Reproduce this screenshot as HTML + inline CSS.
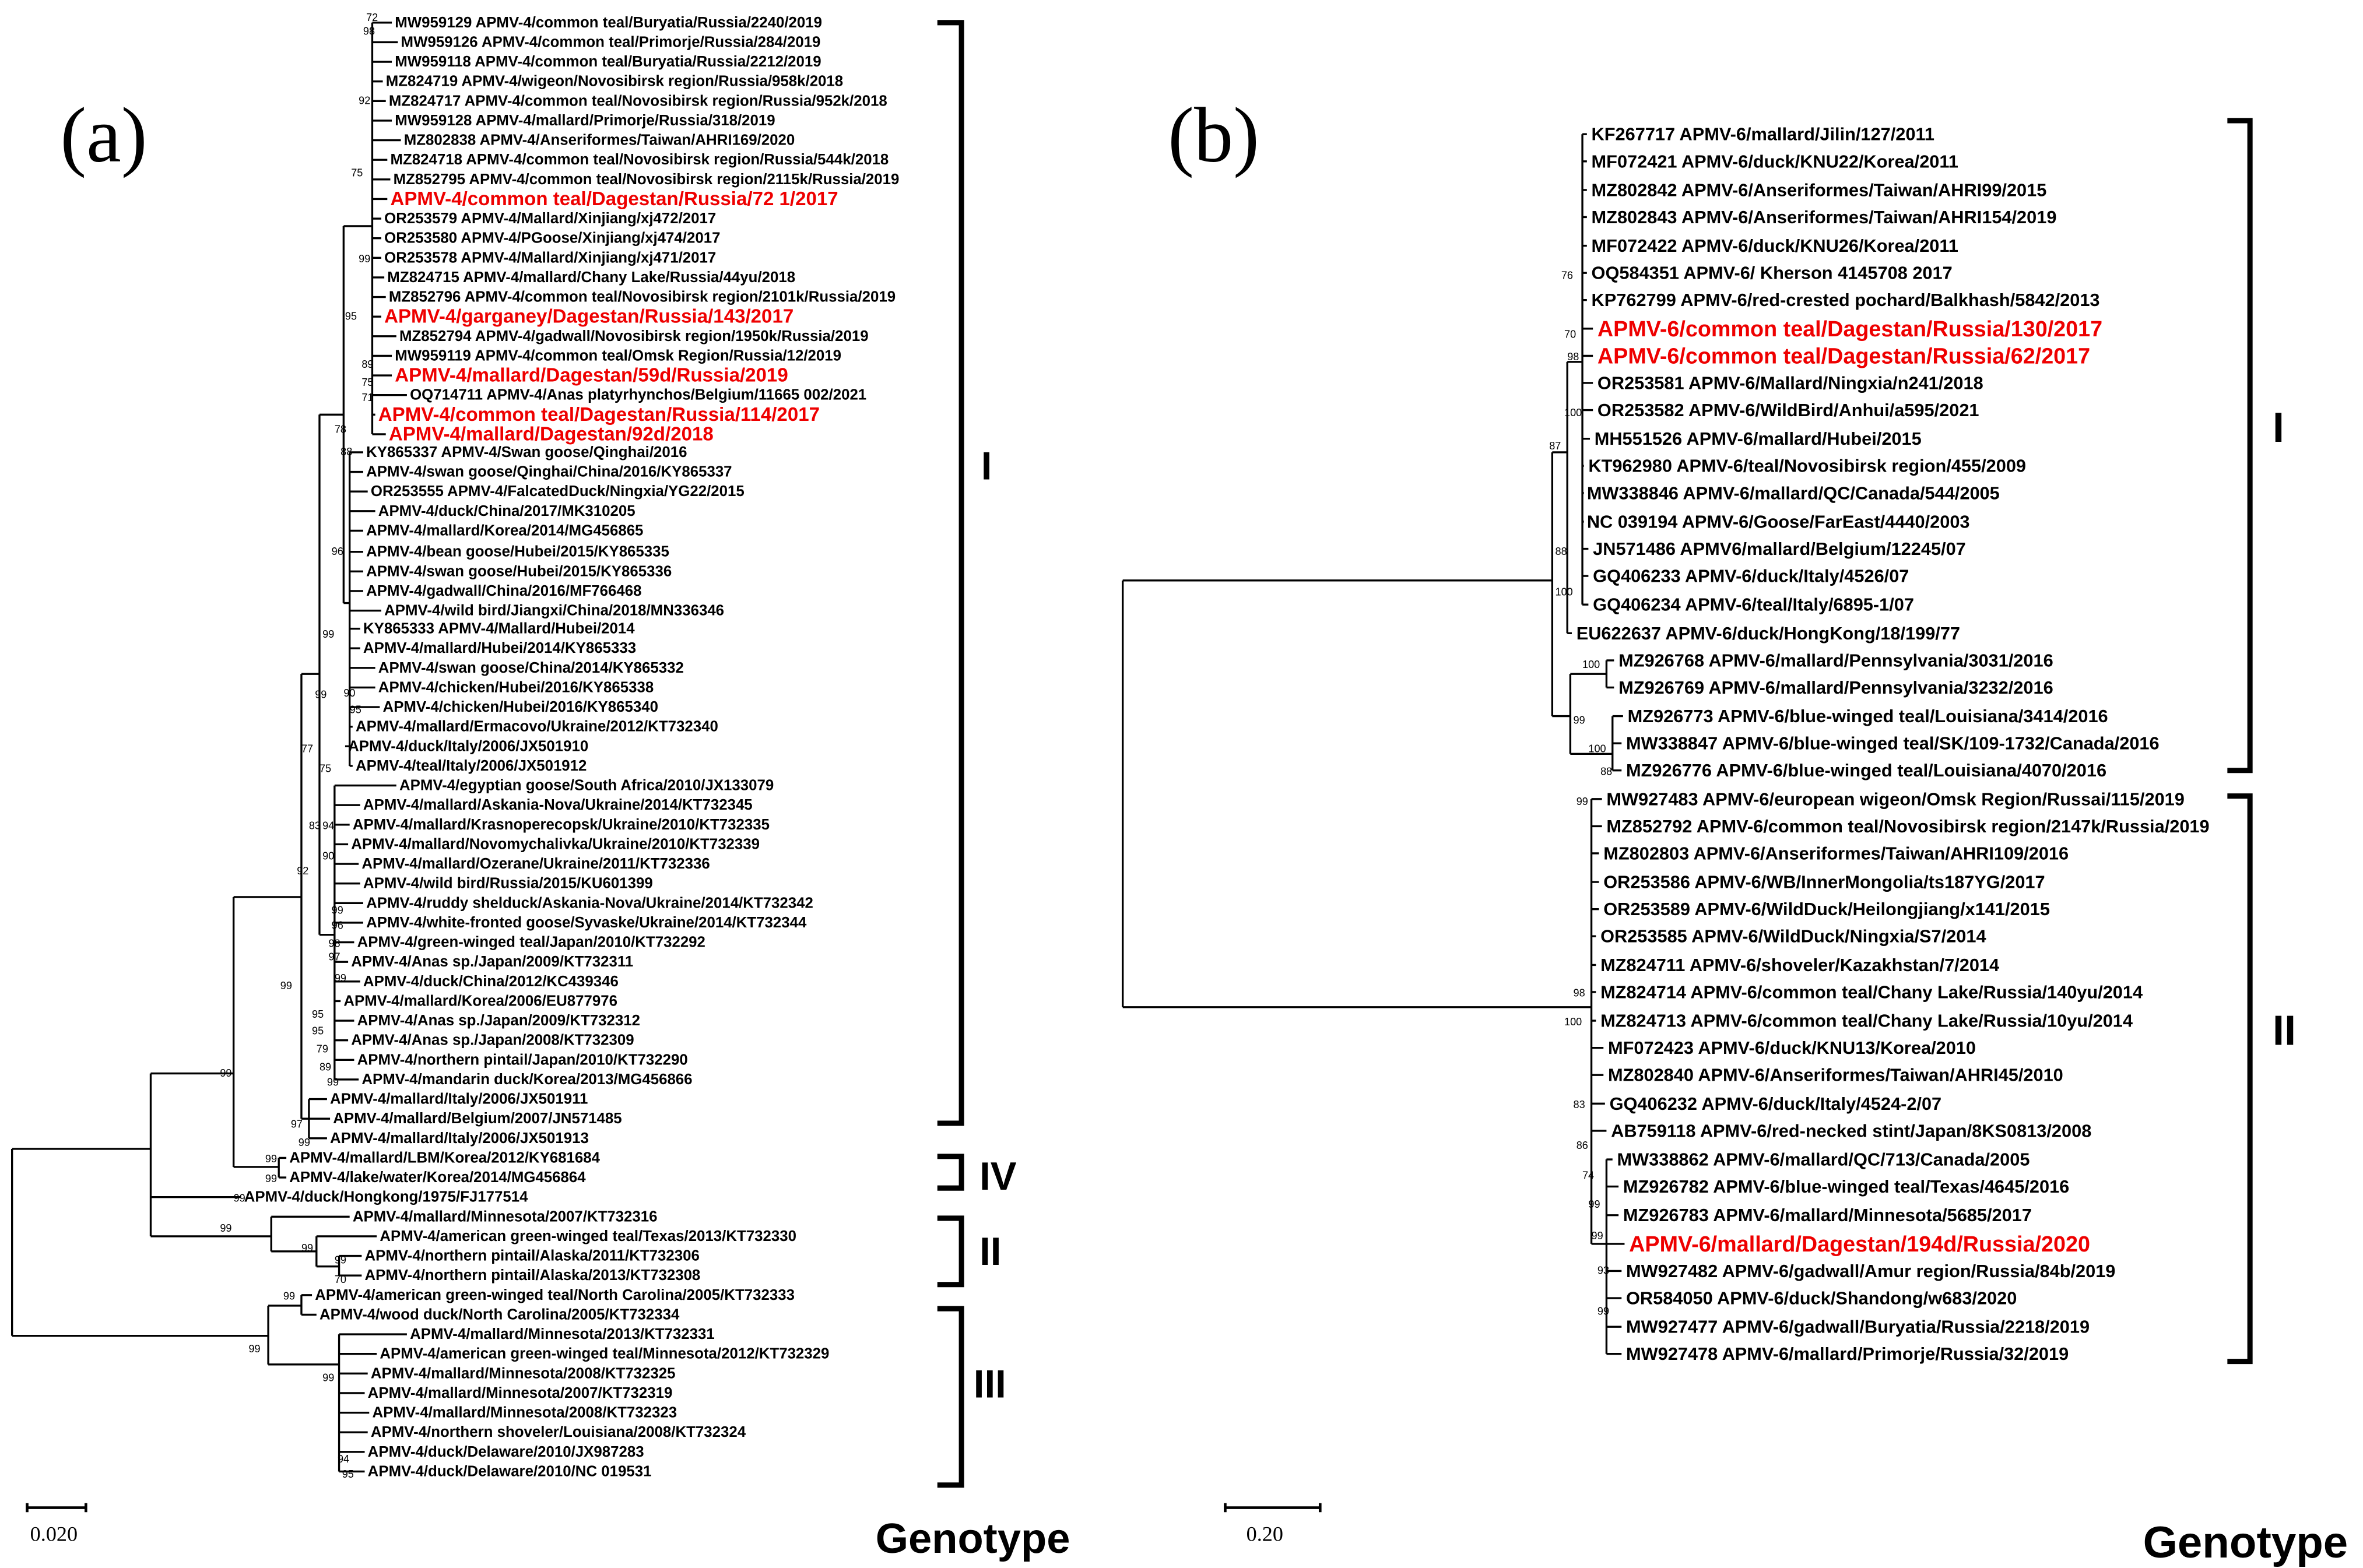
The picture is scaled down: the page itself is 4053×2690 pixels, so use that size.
<!DOCTYPE html>
<html><head><meta charset="utf-8"><style>html,body{margin:0;padding:0;background:#fff}svg{display:block}</style></head>
<body>
<svg xmlns="http://www.w3.org/2000/svg" width="4053" height="2690" viewBox="0 0 1568 1040" preserveAspectRatio="none">
<rect width="1568" height="1040" fill="#fff"/>
<g stroke="#000" stroke-width="1.3" fill="none">
<path d="M8 762V886M8 762H100M8 886H178"/>
<path d="M100 712V820M100 712H155M100 794H160M100 820H180"/>
<path d="M155 595V774M155 595H200M155 774H185"/>
<path d="M185 768V781M185 768H190M185 781H190"/>
<path d="M200 447V742M200 447H212M200 742H205"/>
<path d="M205 729V755M205 729H217M205 742H219M205 755H217"/>
<path d="M212 275V620M212 275H228M212 620H222"/>
<path d="M228 150V400M228 150H247M228 400H232"/>
<path d="M247 15V288M232 300V508M222 521V716"/>
<path d="M180 807V830M180 807H232M180 830H210M210 820V840M210 820H250M210 840H225M225 833V846M225 833H240M225 846H240"/>
<path d="M178 866V905M178 866H200M178 905H225M200 859V872M200 859H207M200 872H210M225 885V976"/>
</g>
<g stroke="#000" stroke-width="1.3">
<path d="M247 15H260M247 28H264M247 41H260M247 54H254M247 67H256M247 80H260M247 93H266M247 106H257M247 119H259M247 132H257M247 145H253M247 158H253M247 171H253M247 184H255M247 197H256M247 210H253M247 223H263M247 236H260M247 249H260M247 262H270M247 275H249M247 288H256"/>
<path d="M232 300H241M232 313H241M232 326H244M232 339H249M232 352H241M232 366H241M232 379H241M232 392H241M232 405H253M232 417H239M232 430H239M232 443H249M232 456H249M232 469H252M232 482H234M232 495H229M232 508H234"/>
<path d="M222 521H263M222 534H239M222 547H232M222 560H231M222 573H238M222 586H239M222 599H241M222 612H241M222 625H235M222 638H231M222 651H239M222 664H226M222 677H235M222 690H231M222 703H235M222 716H238"/>
<path d="M225 885H270M225 898H250M225 911H244M225 924H242M225 937H245M225 950H244M225 963H242M225 976H242"/>
</g>
<g font-family="Liberation Sans, Arial, sans-serif" font-weight="bold" font-size="10" fill="#000" dominant-baseline="central">
<text x="262" y="15">MW959129 APMV-4/common teal/Buryatia/Russia/2240/2019</text>
<text x="266" y="28">MW959126 APMV-4/common teal/Primorje/Russia/284/2019</text>
<text x="262" y="41">MW959118 APMV-4/common teal/Buryatia/Russia/2212/2019</text>
<text x="256" y="54">MZ824719 APMV-4/wigeon/Novosibirsk region/Russia/958k/2018</text>
<text x="258" y="67">MZ824717 APMV-4/common teal/Novosibirsk region/Russia/952k/2018</text>
<text x="262" y="80">MW959128 APMV-4/mallard/Primorje/Russia/318/2019</text>
<text x="268" y="93">MZ802838 APMV-4/Anseriformes/Taiwan/AHRI169/2020</text>
<text x="259" y="106">MZ824718 APMV-4/common teal/Novosibirsk region/Russia/544k/2018</text>
<text x="261" y="119">MZ852795 APMV-4/common teal/Novosibirsk region/2115k/Russia/2019</text>
<text x="259" y="132" fill="#e00" font-size="12.8">APMV-4/common teal/Dagestan/Russia/72 1/2017</text>
<text x="255" y="145">OR253579 APMV-4/Mallard/Xinjiang/xj472/2017</text>
<text x="255" y="158">OR253580 APMV-4/PGoose/Xinjiang/xj474/2017</text>
<text x="255" y="171">OR253578 APMV-4/Mallard/Xinjiang/xj471/2017</text>
<text x="257" y="184">MZ824715 APMV-4/mallard/Chany Lake/Russia/44yu/2018</text>
<text x="258" y="197">MZ852796 APMV-4/common teal/Novosibirsk region/2101k/Russia/2019</text>
<text x="255" y="210" fill="#e00" font-size="12.8">APMV-4/garganey/Dagestan/Russia/143/2017</text>
<text x="265" y="223">MZ852794 APMV-4/gadwall/Novosibirsk region/1950k/Russia/2019</text>
<text x="262" y="236">MW959119 APMV-4/common teal/Omsk Region/Russia/12/2019</text>
<text x="262" y="249" fill="#e00" font-size="12.8">APMV-4/mallard/Dagestan/59d/Russia/2019</text>
<text x="272" y="262">OQ714711 APMV-4/Anas platyrhynchos/Belgium/11665 002/2021</text>
<text x="251" y="275" fill="#e00" font-size="12.8">APMV-4/common teal/Dagestan/Russia/114/2017</text>
<text x="258" y="288" fill="#e00" font-size="12.8">APMV-4/mallard/Dagestan/92d/2018</text>
<text x="243" y="300">KY865337 APMV-4/Swan goose/Qinghai/2016</text>
<text x="243" y="313">APMV-4/swan goose/Qinghai/China/2016/KY865337</text>
<text x="246" y="326">OR253555 APMV-4/FalcatedDuck/Ningxia/YG22/2015</text>
<text x="251" y="339">APMV-4/duck/China/2017/MK310205</text>
<text x="243" y="352">APMV-4/mallard/Korea/2014/MG456865</text>
<text x="243" y="366">APMV-4/bean goose/Hubei/2015/KY865335</text>
<text x="243" y="379">APMV-4/swan goose/Hubei/2015/KY865336</text>
<text x="243" y="392">APMV-4/gadwall/China/2016/MF766468</text>
<text x="255" y="405">APMV-4/wild bird/Jiangxi/China/2018/MN336346</text>
<text x="241" y="417">KY865333 APMV-4/Mallard/Hubei/2014</text>
<text x="241" y="430">APMV-4/mallard/Hubei/2014/KY865333</text>
<text x="251" y="443">APMV-4/swan goose/China/2014/KY865332</text>
<text x="251" y="456">APMV-4/chicken/Hubei/2016/KY865338</text>
<text x="254" y="469">APMV-4/chicken/Hubei/2016/KY865340</text>
<text x="236" y="482">APMV-4/mallard/Ermacovo/Ukraine/2012/KT732340</text>
<text x="231" y="495">APMV-4/duck/Italy/2006/JX501910</text>
<text x="236" y="508">APMV-4/teal/Italy/2006/JX501912</text>
<text x="265" y="521">APMV-4/egyptian goose/South Africa/2010/JX133079</text>
<text x="241" y="534">APMV-4/mallard/Askania-Nova/Ukraine/2014/KT732345</text>
<text x="234" y="547">APMV-4/mallard/Krasnoperecopsk/Ukraine/2010/KT732335</text>
<text x="233" y="560">APMV-4/mallard/Novomychalivka/Ukraine/2010/KT732339</text>
<text x="240" y="573">APMV-4/mallard/Ozerane/Ukraine/2011/KT732336</text>
<text x="241" y="586">APMV-4/wild bird/Russia/2015/KU601399</text>
<text x="243" y="599">APMV-4/ruddy shelduck/Askania-Nova/Ukraine/2014/KT732342</text>
<text x="243" y="612">APMV-4/white-fronted goose/Syvaske/Ukraine/2014/KT732344</text>
<text x="237" y="625">APMV-4/green-winged teal/Japan/2010/KT732292</text>
<text x="233" y="638">APMV-4/Anas sp./Japan/2009/KT732311</text>
<text x="241" y="651">APMV-4/duck/China/2012/KC439346</text>
<text x="228" y="664">APMV-4/mallard/Korea/2006/EU877976</text>
<text x="237" y="677">APMV-4/Anas sp./Japan/2009/KT732312</text>
<text x="233" y="690">APMV-4/Anas sp./Japan/2008/KT732309</text>
<text x="237" y="703">APMV-4/northern pintail/Japan/2010/KT732290</text>
<text x="240" y="716">APMV-4/mandarin duck/Korea/2013/MG456866</text>
<text x="219" y="729">APMV-4/mallard/Italy/2006/JX501911</text>
<text x="221" y="742">APMV-4/mallard/Belgium/2007/JN571485</text>
<text x="219" y="755">APMV-4/mallard/Italy/2006/JX501913</text>
<text x="192" y="768">APMV-4/mallard/LBM/Korea/2012/KY681684</text>
<text x="192" y="781">APMV-4/lake/water/Korea/2014/MG456864</text>
<text x="162" y="794">APMV-4/duck/Hongkong/1975/FJ177514</text>
<text x="234" y="807">APMV-4/mallard/Minnesota/2007/KT732316</text>
<text x="252" y="820">APMV-4/american green-winged teal/Texas/2013/KT732330</text>
<text x="242" y="833">APMV-4/northern pintail/Alaska/2011/KT732306</text>
<text x="242" y="846">APMV-4/northern pintail/Alaska/2013/KT732308</text>
<text x="209" y="859">APMV-4/american green-winged teal/North Carolina/2005/KT732333</text>
<text x="212" y="872">APMV-4/wood duck/North Carolina/2005/KT732334</text>
<text x="272" y="885">APMV-4/mallard/Minnesota/2013/KT732331</text>
<text x="252" y="898">APMV-4/american green-winged teal/Minnesota/2012/KT732329</text>
<text x="246" y="911">APMV-4/mallard/Minnesota/2008/KT732325</text>
<text x="244" y="924">APMV-4/mallard/Minnesota/2007/KT732319</text>
<text x="247" y="937">APMV-4/mallard/Minnesota/2008/KT732323</text>
<text x="246" y="950">APMV-4/northern shoveler/Louisiana/2008/KT732324</text>
<text x="244" y="963">APMV-4/duck/Delaware/2010/JX987283</text>
<text x="244" y="976">APMV-4/duck/Delaware/2010/NC 019531</text>
</g>
<g font-family="Liberation Sans, Arial, sans-serif" font-size="7" fill="#000">
<text x="243" y="14">72</text><text x="241" y="23">98</text><text x="238" y="69">92</text><text x="233" y="117">75</text><text x="238" y="174">99</text><text x="229" y="212">95</text><text x="240" y="244">89</text><text x="240" y="256">75</text><text x="240" y="266">71</text><text x="222" y="287">78</text><text x="226" y="302">88</text><text x="220" y="368">96</text><text x="214" y="423">99</text><text x="228" y="462">90</text><text x="232" y="473">95</text><text x="209" y="463">99</text><text x="200" y="499">77</text><text x="212" y="512">75</text><text x="205" y="550">83</text><text x="214" y="550">94</text><text x="214" y="570">90</text><text x="197" y="580">92</text><text x="220" y="606">99</text><text x="220" y="616">96</text><text x="218" y="628">98</text><text x="218" y="637">97</text><text x="222" y="651">99</text><text x="186" y="656">99</text><text x="207" y="675">95</text><text x="207" y="686">95</text><text x="210" y="698">79</text><text x="212" y="710">89</text><text x="217" y="720">99</text><text x="193" y="748">97</text><text x="198" y="760">99</text><text x="146" y="714">99</text><text x="176" y="771">99</text><text x="176" y="784">99</text><text x="155" y="797">99</text><text x="146" y="817">99</text><text x="200" y="830">99</text><text x="222" y="838">99</text><text x="222" y="851">70</text><text x="188" y="862">99</text><text x="165" y="897">99</text><text x="214" y="916">99</text><text x="224" y="970">94</text><text x="227" y="980">95</text>
</g>
<g stroke="#000" stroke-width="1.3" fill="none">
<path d="M745 385V668M745 385H1030M745 668H1056"/>
<path d="M1030 300V475M1030 300H1040M1030 475H1042"/>
<path d="M1040 240V420M1040 240H1050M1040 420H1043"/>
<path d="M1050 89V401"/>
<path d="M1042 447V500M1042 447H1066M1042 500H1070M1066 438V456M1070 475V511"/>
<path d="M1056 530V825M1056 825H1066M1066 769V898"/>
</g>
<g stroke="#000" stroke-width="1.3">
<path d="M1050 89H1053M1050 107H1053M1050 126H1053M1050 144H1053M1050 163H1053M1050 181H1053M1050 199H1053M1050 218H1057M1050 236H1057M1050 254H1057M1050 272H1057M1050 291H1055M1050 309H1051M1050 327H1051M1050 346H1051M1050 364H1054M1050 382H1054M1050 401H1054"/>
<path d="M1066 438H1071M1066 456H1071M1070 475H1077M1070 493H1076M1070 511H1076"/>
<path d="M1056 530H1063M1056 548H1063M1056 566H1061M1056 585H1061M1056 603H1061M1056 621H1059M1056 640H1059M1056 658H1059M1056 677H1059M1056 695H1064M1056 713H1064M1056 732H1065M1056 750H1066"/>
<path d="M1066 769H1070M1066 787H1074M1066 806H1074M1066 825H1078M1066 843H1076M1066 861H1076M1066 880H1076M1066 898H1076"/>
</g>
<g font-family="Liberation Sans, Arial, sans-serif" font-weight="bold" font-size="11.9" fill="#000" dominant-baseline="central">
<text x="1056" y="89">KF267717 APMV-6/mallard/Jilin/127/2011</text>
<text x="1056" y="107">MF072421 APMV-6/duck/KNU22/Korea/2011</text>
<text x="1056" y="126">MZ802842 APMV-6/Anseriformes/Taiwan/AHRI99/2015</text>
<text x="1056" y="144">MZ802843 APMV-6/Anseriformes/Taiwan/AHRI154/2019</text>
<text x="1056" y="163">MF072422 APMV-6/duck/KNU26/Korea/2011</text>
<text x="1056" y="181">OQ584351 APMV-6/ Kherson 4145708 2017</text>
<text x="1056" y="199">KP762799 APMV-6/red-crested pochard/Balkhash/5842/2013</text>
<text x="1060" y="218" fill="#e00" font-size="14.6">APMV-6/common teal/Dagestan/Russia/130/2017</text>
<text x="1060" y="236" fill="#e00" font-size="14.6">APMV-6/common teal/Dagestan/Russia/62/2017</text>
<text x="1060" y="254">OR253581 APMV-6/Mallard/Ningxia/n241/2018</text>
<text x="1060" y="272">OR253582 APMV-6/WildBird/Anhui/a595/2021</text>
<text x="1058" y="291">MH551526 APMV-6/mallard/Hubei/2015</text>
<text x="1054" y="309">KT962980 APMV-6/teal/Novosibirsk region/455/2009</text>
<text x="1053" y="327">MW338846 APMV-6/mallard/QC/Canada/544/2005</text>
<text x="1053" y="346">NC 039194 APMV-6/Goose/FarEast/4440/2003</text>
<text x="1057" y="364">JN571486 APMV6/mallard/Belgium/12245/07</text>
<text x="1057" y="382">GQ406233 APMV-6/duck/Italy/4526/07</text>
<text x="1057" y="401">GQ406234 APMV-6/teal/Italy/6895-1/07</text>
<text x="1046" y="420">EU622637 APMV-6/duck/HongKong/18/199/77</text>
<text x="1074" y="438">MZ926768 APMV-6/mallard/Pennsylvania/3031/2016</text>
<text x="1074" y="456">MZ926769 APMV-6/mallard/Pennsylvania/3232/2016</text>
<text x="1080" y="475">MZ926773 APMV-6/blue-winged teal/Louisiana/3414/2016</text>
<text x="1079" y="493">MW338847 APMV-6/blue-winged teal/SK/109-1732/Canada/2016</text>
<text x="1079" y="511">MZ926776 APMV-6/blue-winged teal/Louisiana/4070/2016</text>
<text x="1066" y="530">MW927483 APMV-6/european wigeon/Omsk Region/Russai/115/2019</text>
<text x="1066" y="548">MZ852792 APMV-6/common teal/Novosibirsk region/2147k/Russia/2019</text>
<text x="1064" y="566">MZ802803 APMV-6/Anseriformes/Taiwan/AHRI109/2016</text>
<text x="1064" y="585">OR253586 APMV-6/WB/InnerMongolia/ts187YG/2017</text>
<text x="1064" y="603">OR253589 APMV-6/WildDuck/Heilongjiang/x141/2015</text>
<text x="1062" y="621">OR253585 APMV-6/WildDuck/Ningxia/S7/2014</text>
<text x="1062" y="640">MZ824711 APMV-6/shoveler/Kazakhstan/7/2014</text>
<text x="1062" y="658">MZ824714 APMV-6/common teal/Chany Lake/Russia/140yu/2014</text>
<text x="1062" y="677">MZ824713 APMV-6/common teal/Chany Lake/Russia/10yu/2014</text>
<text x="1067" y="695">MF072423 APMV-6/duck/KNU13/Korea/2010</text>
<text x="1067" y="713">MZ802840 APMV-6/Anseriformes/Taiwan/AHRI45/2010</text>
<text x="1068" y="732">GQ406232 APMV-6/duck/Italy/4524-2/07</text>
<text x="1069" y="750">AB759118 APMV-6/red-necked stint/Japan/8KS0813/2008</text>
<text x="1073" y="769">MW338862 APMV-6/mallard/QC/713/Canada/2005</text>
<text x="1077" y="787">MZ926782 APMV-6/blue-winged teal/Texas/4645/2016</text>
<text x="1077" y="806">MZ926783 APMV-6/mallard/Minnesota/5685/2017</text>
<text x="1081" y="825" fill="#e00" font-size="14.6">APMV-6/mallard/Dagestan/194d/Russia/2020</text>
<text x="1079" y="843">MW927482 APMV-6/gadwall/Amur region/Russia/84b/2019</text>
<text x="1079" y="861">OR584050 APMV-6/duck/Shandong/w683/2020</text>
<text x="1079" y="880">MW927477 APMV-6/gadwall/Buryatia/Russia/2218/2019</text>
<text x="1079" y="898">MW927478 APMV-6/mallard/Primorje/Russia/32/2019</text>
</g>
<g font-family="Liberation Sans, Arial, sans-serif" font-size="7" fill="#000">
<text x="1036" y="185">76</text><text x="1038" y="224">70</text><text x="1040" y="239">98</text><text x="1038" y="276">100</text><text x="1028" y="298">87</text><text x="1032" y="368">88</text><text x="1032" y="395">100</text><text x="1050" y="443">100</text><text x="1044" y="480">99</text><text x="1054" y="499">100</text><text x="1062" y="514">88</text><text x="1046" y="534">99</text><text x="1044" y="661">98</text><text x="1038" y="680">100</text><text x="1044" y="735">83</text><text x="1046" y="762">86</text><text x="1050" y="782">74</text><text x="1054" y="801">99</text><text x="1056" y="822">99</text><text x="1060" y="845">93</text><text x="1060" y="872">99</text>
</g>
<g stroke="#000" stroke-width="3.5" fill="none">
<path d="M622 15H638V745H622"/>
<path d="M622 767H638V788H622"/>
<path d="M622 808H638V852H622"/>
<path d="M622 868H638V985H622"/>
<path d="M1478 80H1493V511H1478"/>
<path d="M1478 528H1493V903H1478"/>
</g>
<g font-family="Liberation Sans, Arial, sans-serif" font-weight="bold" fill="#000">
<text x="651" y="318" font-size="26">I</text>
<text x="650" y="789" font-size="26">IV</text>
<text x="650" y="839" font-size="26">II</text>
<text x="646" y="927" font-size="26">III</text>
<text x="1508" y="293" font-size="28">I</text>
<text x="1508" y="693" font-size="28">II</text>
<text x="581" y="1030" font-size="28">Genotype</text>
<text x="1422" y="1033" font-size="29.5">Genotype</text>
</g>
<g font-family="Liberation Serif, serif" fill="#000">
<text x="40" y="107" font-size="52">(a)</text>
<text x="775" y="107" font-size="52">(b)</text>
<text x="20" y="1022" font-size="14">0.020</text>
<text x="827" y="1022" font-size="14">0.20</text>
</g>
<g stroke="#000" stroke-width="1.8" fill="none">
<path d="M18 997V1003M18 1000H57M57 997V1003"/>
<path d="M813 997V1003M813 1000H876M876 997V1003"/>
</g>
</svg>
</body></html>
